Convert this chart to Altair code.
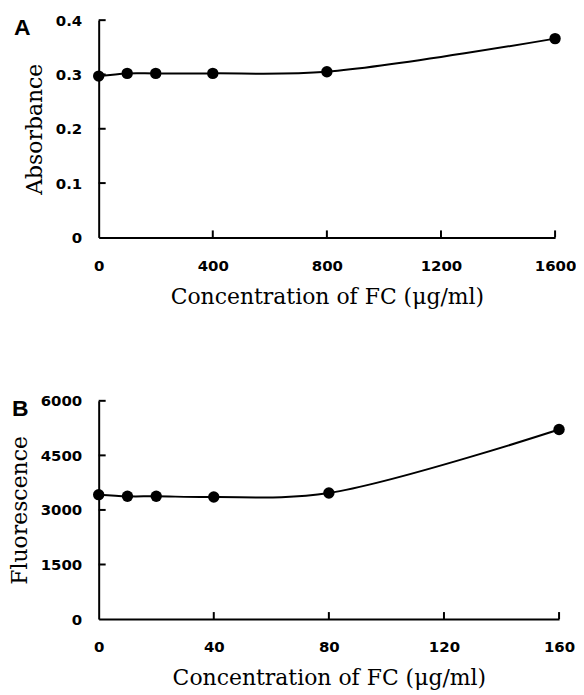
import altair as alt
import pandas as pd

# Panel A data
conc_a = [0, 100, 200, 400, 800, 1600]
absorb = [0.297, 0.302, 0.302, 0.302, 0.305, 0.366]
xticks_a = [0, 400, 800, 1200, 1600]
yticks_a = [0, 0.1, 0.2, 0.3, 0.4]

# Panel B data
conc_b = [0, 10, 20, 40, 80, 160]
fluor = [3420, 3375, 3375, 3355, 3465, 5210]
xticks_b = [0, 40, 80, 120, 160]
yticks_b = [0, 1500, 3000, 4500, 6000]

WA, HA = 458, 218
WB, HB = 462, 219

LABEL_FONT = "DejaVu Sans"
TITLE_FONT = "DejaVu Serif"


def panel(xs, ys, xticks, yticks, xdom, ydom, ytitle, letter, lx, W, H, yfmt):
    df = pd.DataFrame({"x": xs, "y": ys})
    xt = pd.DataFrame({"v": [t for t in xticks if t != 0]})
    yt = pd.DataFrame({"v": [t for t in yticks if t != 0]})
    xsc = alt.Scale(domain=xdom, nice=False, zero=False)
    ysc = alt.Scale(domain=ydom, nice=False)
    xax = alt.Axis(values=xticks, title="Concentration of FC (\u03bcg/ml)", labelPadding=21,
                   titlePadding=13, format="d", labelFlush=False)
    yax = alt.Axis(values=yticks, title=ytitle, labelPadding=17, titlePadding=9,
                   format=yfmt)
    base = alt.Chart(df)
    line = base.mark_line(interpolate="catmull-rom", color="black", strokeWidth=2).encode(
        x=alt.X("x:Q", scale=xsc, axis=xax),
        y=alt.Y("y:Q", scale=ysc, axis=yax),
    )
    pts = base.mark_point(filled=True, color="black", size=130, opacity=1).encode(
        x=alt.X("x:Q", scale=xsc), y=alt.Y("y:Q", scale=ysc)
    )
    xtk = alt.Chart(xt).mark_rule(color="black", strokeWidth=2).encode(
        x=alt.X("v:Q", scale=xsc), y=alt.value(H), y2=alt.value(H - 7)
    )
    ytk = alt.Chart(yt).mark_rule(color="black", strokeWidth=2).encode(
        y=alt.Y("v:Q", scale=ysc), x=alt.value(0), x2=alt.value(7)
    )
    lab = alt.Chart(pd.DataFrame({"t": [letter]})).mark_text(
        font="Liberation Sans", fontWeight="bold", fontSize=23, align="left",
        baseline="alphabetic", color="black"
    ).encode(text="t:N", x=alt.value(lx), y=alt.value(15))
    return alt.layer(line, xtk, ytk, pts, lab).properties(width=W, height=H)


a = panel(conc_a, absorb, xticks_a, yticks_a, [0, 1600], [0, 0.4], "Absorbance", "A", -85,
          WA, HA, "")
b = panel(conc_b, fluor, xticks_b, yticks_b, [0, 160], [0, 6000], "Fluorescence", "B", -87,
          WB, HB, "d")

chart = alt.vconcat(a, b, spacing=87).properties(
    padding={"left": 0, "top": 4, "right": 0, "bottom": 0}
).configure_view(stroke=None).configure_axis(
    grid=False, ticks=False, domainColor="black", domainWidth=2,
    labelFont=LABEL_FONT, labelFontWeight="bold", labelFontSize=15, labelColor="black",
    titleFont=TITLE_FONT, titleFontWeight="normal", titleFontSize=22, titleColor="black",
)

chart.save("out.html", embed_options={"renderer": "svg", "actions": False})
